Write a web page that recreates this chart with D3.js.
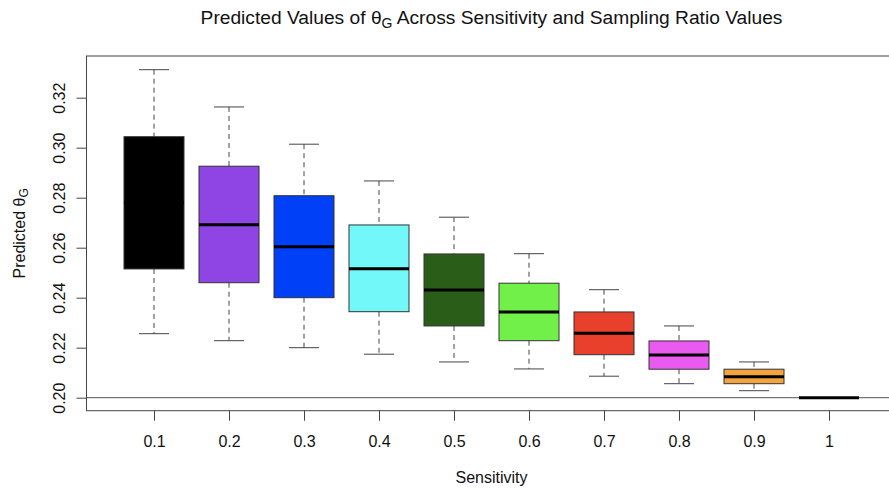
<!DOCTYPE html>
<html>
<head>
<meta charset="utf-8">
<script src="https://cdn.jsdelivr.net/npm/d3@7"></script>
<style>
  html, body { margin: 0; padding: 0; background: #fff; }
  svg { display: block; font-family: "Liberation Sans", Arial, Helvetica, sans-serif; }
</style>
</head>
<body>
<svg id="chart" width="889" height="492"></svg>
<script>
// ---- data ----
const sensitivity = ["0.1", "0.2", "0.3", "0.4", "0.5", "0.6", "0.7", "0.8", "0.9", "1"];
const whiskerLow  = [0.2256, 0.2228, 0.2200, 0.2174, 0.2143, 0.2115, 0.2086, 0.2056, 0.2028, 0.2000];
const q1          = [0.2515, 0.2460, 0.2400, 0.2344, 0.2287, 0.2228, 0.2172, 0.2114, 0.2056, 0.2000];
const median      = [0.2780, 0.2692, 0.2604, 0.2516, 0.2431, 0.2343, 0.2258, 0.2171, 0.2084, 0.2000];
const q3          = [0.3044, 0.2926, 0.2808, 0.2691, 0.2575, 0.2458, 0.2343, 0.2227, 0.2114, 0.2000];
const whiskerHigh = [0.3312, 0.3163, 0.3014, 0.2867, 0.2722, 0.2576, 0.2432, 0.2287, 0.2143, 0.2000];
const boxColors   = ["#000000", "#8E45E3", "#0040F6", "#73F8FA", "#2A5E18", "#72F04A", "#E8402A", "#E95AF0", "#F3A43E", "#000000"];
const yTicks      = [0.20, 0.22, 0.24, 0.26, 0.28, 0.30, 0.32];
const refLine     = 0.20;

// ---- layout ----
const svg = d3.select("#chart");
const plotLeft = 86.5, plotRight = 896.5, plotTop = 56, plotBottom = 410.7;
const x = d3.scaleLinear().domain([0.1, sensitivity.length + 0.9]).range([plotLeft, plotRight]);
const y = d3.scaleLinear().domain([0.1948, 0.33668]).range([plotBottom, plotTop]);
const step = x(2) - x(1);
const boxW = step * 0.8, capW = step * 0.4;
const lineCol = "#444";
const font = "'Liberation Sans', Arial, sans-serif";

const data = sensitivity.map((s, i) => ({
  s, i, lo: whiskerLow[i], q1: q1[i], med: median[i], q3: q3[i], hi: whiskerHigh[i], col: boxColors[i]
}));

// reference line
svg.append("line")
  .attr("x1", plotLeft).attr("x2", plotRight)
  .attr("y1", y(refLine)).attr("y2", y(refLine))
  .attr("stroke", "#555").attr("stroke-width", 1);

const g = svg.append("g");
const box = g.selectAll("g.box").data(data).enter().append("g").attr("class", "box");

// whiskers (dashed)
box.append("line")
  .attr("x1", d => x(d.i + 1)).attr("x2", d => x(d.i + 1))
  .attr("y1", d => y(d.hi)).attr("y2", d => y(d.q3))
  .attr("stroke", lineCol).attr("stroke-dasharray", "5,4");
box.append("line")
  .attr("x1", d => x(d.i + 1)).attr("x2", d => x(d.i + 1))
  .attr("y1", d => y(d.q1)).attr("y2", d => y(d.lo))
  .attr("stroke", lineCol).attr("stroke-dasharray", "5,4");
// caps
box.filter(d => d.hi > d.lo).append("line")
  .attr("x1", d => x(d.i + 1) - capW / 2).attr("x2", d => x(d.i + 1) + capW / 2)
  .attr("y1", d => y(d.hi)).attr("y2", d => y(d.hi))
  .attr("stroke", lineCol);
box.filter(d => d.hi > d.lo).append("line")
  .attr("x1", d => x(d.i + 1) - capW / 2).attr("x2", d => x(d.i + 1) + capW / 2)
  .attr("y1", d => y(d.lo)).attr("y2", d => y(d.lo))
  .attr("stroke", lineCol);
// boxes
box.filter(d => d.q3 > d.q1).append("rect")
  .attr("x", d => x(d.i + 1) - boxW / 2)
  .attr("width", boxW)
  .attr("y", d => y(d.q3))
  .attr("height", d => y(d.q1) - y(d.q3))
  .attr("fill", d => d.col)
  .attr("stroke", "#333").attr("stroke-width", 1);
// medians
box.append("line")
  .attr("x1", d => x(d.i + 1) - boxW / 2).attr("x2", d => x(d.i + 1) + boxW / 2)
  .attr("y1", d => y(d.med)).attr("y2", d => y(d.med))
  .attr("stroke", "#000").attr("stroke-width", 3);

// plot frame
svg.append("rect")
  .attr("x", plotLeft).attr("y", plotTop)
  .attr("width", plotRight - plotLeft).attr("height", plotBottom - plotTop)
  .attr("fill", "none").attr("stroke", "#444").attr("stroke-width", 1);

// x axis
const xAxis = d3.axisBottom(x)
  .tickValues(d3.range(1, sensitivity.length + 1))
  .tickFormat(d => sensitivity[d - 1])
  .tickSize(10).tickSizeOuter(0);
const xg = svg.append("g").attr("transform", `translate(0,${plotBottom})`).call(xAxis);
xg.select(".domain").remove();
xg.selectAll(".tick line").attr("stroke", "#444");
xg.selectAll(".tick text")
  .attr("y", 36).attr("dy", null)
  .attr("font-size", 16).attr("fill", "#111")
  .attr("font-family", font);

// y axis
const yAxis = d3.axisLeft(y).tickValues(yTicks).tickFormat(d3.format(".2f")).tickSize(10).tickSizeOuter(0);
const yg = svg.append("g").attr("transform", `translate(${plotLeft},0)`).call(yAxis);
yg.select(".domain").remove();
yg.selectAll(".tick line").attr("stroke", "#444");
yg.selectAll(".tick text")
  .attr("x", null).attr("dy", null)
  .attr("transform", "translate(-21.5,0) rotate(-90)")
  .attr("text-anchor", "middle")
  .attr("font-size", 16).attr("fill", "#111")
  .attr("font-family", font);

// title
const title = svg.append("text")
  .attr("x", (plotLeft + plotRight) / 2).attr("y", 23.5)
  .attr("text-anchor", "middle").attr("font-size", 19.2).attr("fill", "#111");
title.append("tspan").text("Predicted Values of θ");
title.append("tspan").attr("dy", 4).attr("font-size", 14).text("G");
title.append("tspan").attr("dy", -4).text(" Across Sensitivity and Sampling Ratio Values");

// x label
svg.append("text")
  .attr("x", (plotLeft + plotRight) / 2).attr("y", 483)
  .attr("text-anchor", "middle").attr("font-size", 16).attr("fill", "#111")
  .text("Sensitivity");

// y label
const yl = svg.append("text")
  .attr("transform", `translate(25,${(plotTop + plotBottom) / 2}) rotate(-90)`)
  .attr("text-anchor", "middle").attr("font-size", 16).attr("fill", "#111");
yl.append("tspan").text("Predicted θ");
yl.append("tspan").attr("dy", 3).attr("font-size", 12).text("G");
</script>
</body>
</html>
